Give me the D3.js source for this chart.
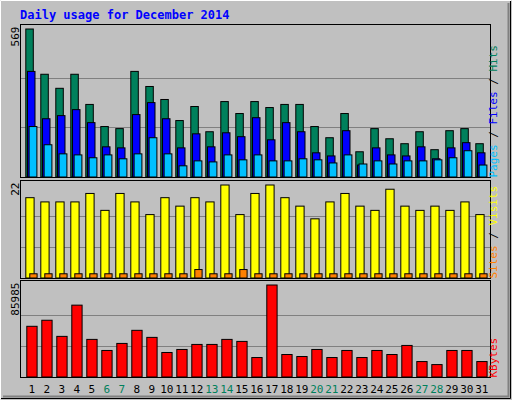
<!DOCTYPE html><html><head><meta charset="utf-8"><script src="https://cdn.jsdelivr.net/npm/d3@7"></script>
<style>body{margin:0;background:#c0c0c0}</style></head><body><script>
const days=d3.range(1,32);
const weekend=[6,7,13,14,20,21,27,28];
const hits=[569,395,341,395,279,194,186,406,348,298,217,271,174,290,244,290,267,279,279,194,151,244,97,186,147,128,174,105,178,186,128];
const files=[406,224,236,259,209,116,112,240,286,224,112,166,116,170,155,228,143,209,174,93,81,178,46,112,85,81,116,70,112,132,93];
const pages=[194,124,89,85,74,85,70,89,151,89,43,62,58,85,66,85,62,62,70,66,54,85,50,62,50,62,62,66,74,101,46];
const visits=[19,18,18,18,20,16,20,18,15,19,17,19,18,22,15,20,22,19,17,14,18,20,17,16,21,17,16,17,16,18,15];
const sites=[1,1,1,1,1,1,1,1,1,1,1,2,1,1,2,1,1,1,1,1,1,1,1,1,1,1,1,1,1,1,1];
const kbytes=[47386,53035,37971,67156,35147,24791,31381,43620,37030,22908,25733,30440,30440,35147,33264,18201,85985,21025,19143,25733,18201,24791,18201,24791,21025,29498,14435,11611,24791,24791,14435];
const W=512,H=400;
const svg=d3.select("body").append("svg").attr("width",W).attr("height",H);
svg.append("rect").attr("width",W).attr("height",H).attr("fill","#c0c0c0");
svg.append("path").attr("d","M0.5,399.5V0.5H511.5").attr("stroke","#fff").attr("fill","none");
svg.append("path").attr("d","M1,398.5H510.5V1").attr("stroke","#000").attr("fill","none");
svg.append("path").attr("d","M3,396.5H508.5V3").attr("stroke","#808080").attr("stroke-width",2).attr("fill","none");
svg.append("text").attr("x",20).attr("y",19).text("Daily usage for December 2014").attr("font-family","DejaVu Sans Mono").attr("font-weight","bold").attr("font-size",12).attr("fill","#0000ff");
const x=d3.scaleBand().domain(days).range([22.3,487.3]);
const font="DejaVu Sans Mono";
function panel(top,bottom,max,series,label,rlabels){
  svg.append("rect").attr("x",20.5).attr("y",top).attr("width",470).attr("height",bottom-top).attr("fill","#c0c0c0").attr("stroke","#000");
  const y=d3.scaleLinear().domain([0,max]).range([bottom-1,top+4]);
  [1/3,2/3].forEach(f=>{const yy=Math.round(y(max*f))+0.5;svg.append("line").attr("x1",21).attr("x2",490).attr("y1",yy).attr("y2",yy).attr("stroke","#808080");});
  series.forEach(s=>{
    svg.append("g").selectAll("rect").data(days).join("rect")
      .attr("x",d=>x(d)+s.off+0.5).attr("width",s.w).attr("y",(d,i)=>y(s.v[i])+0.5)
      .attr("height",(d,i)=>Math.max(0,y(0)-y(s.v[i]))).attr("fill",s.c).attr("stroke","#000");
  });
  svg.append("text").attr("transform",`translate(19,${top+2}) rotate(-90)`).attr("text-anchor","end").text(label).attr("font-family",font).attr("font-size",11).attr("fill","#000");
  const t=svg.append("text").attr("transform",`translate(497,${bottom}) rotate(-90)`).attr("font-family",font).attr("font-size",11);
  rlabels.forEach((r,i)=>{t.append("tspan").text(r[0]).attr("fill",r[1]);if(i<rlabels.length-1)t.append("tspan").text(" / ").attr("fill","#000");});
}
panel(24.5,177.5,569,[{v:hits,c:"#00805c",off:3,w:7.5},{v:files,c:"#0000ff",off:4.7,w:7.5},{v:pages,c:"#00c0ff",off:6.3,w:7.8}],"569",[["Pages","#00c0ff"],["Files","#0000ff"],["Hits","#00805c"]]);
panel(180.5,278.5,22,[{v:visits,c:"#ffff00",off:3,w:8.3},{v:sites,c:"#ff8000",off:7,w:7.3}],"22",[["Sites","#ff8000"],["Visits","#ffff00"]]);
panel(280.5,377.5,85985,[{v:kbytes,c:"#ff0000",off:4,w:10.3}],"85985",[["KBytes","#ff0000"]]);
svg.append("g").selectAll("text").data(days).join("text").attr("x",d=>x(d)+x.bandwidth()/2+2).attr("y",393).attr("text-anchor","middle")
 .text(d=>d).attr("font-family",font).attr("font-size",11).attr("fill",d=>weekend.includes(d)?"#00805c":"#000");
</script></body></html>
